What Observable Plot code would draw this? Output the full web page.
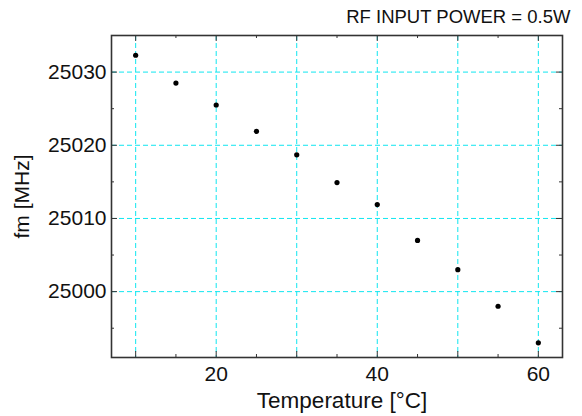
<!DOCTYPE html>
<html><head><meta charset="utf-8">
<script src="https://cdn.jsdelivr.net/npm/d3@7"></script>
<script src="https://cdn.jsdelivr.net/npm/@observablehq/plot@0.6"></script>
<style>body{margin:0;background:#fff;font-family:"Liberation Sans",Arial,sans-serif}</style>
</head><body><div id="chart"></div>
<script>
const temperature = [10, 15, 20, 25, 30, 35, 40, 45, 50, 55, 60];
const fm = [25032.3, 25028.5, 25025.5, 25021.9, 25018.7, 25014.9, 25011.9, 25007.0, 25003.0, 24998.0, 24993.0];
const xMajor = [10, 20, 30, 40, 50, 60];
const xMinor = [15, 25, 35, 45, 55];
const xLabels = [20, 40, 60];
const yMajor = [25000, 25010, 25020, 25030];
const yMinor = [24995, 25005, 25015, 25025, 25035];
const title = "RF INPUT POWER = 0.5W";
const xTitle = "Temperature [°C]";
const yTitle = "fm [MHz]";

const W = 582, H = 416, mL = 111, mR = 20, mT = 35, mB = 59;
const pw = W - mL - mR, ph = H - mT - mB;
const data = temperature.map((t, i) => ({t, f: fm[i]}));
const tickCol = "#333";
const grid = "#10e6f0";

const chart = Plot.plot({
  width: W, height: H,
  marginLeft: mL, marginRight: mR, marginTop: mT, marginBottom: mB,
  style: {fontFamily: "'Liberation Sans', Arial, sans-serif", background: "#fff"},
  x: {domain: [7, 63]},
  y: {domain: [24991, 25035]},
  marks: [
    Plot.ruleX(xMajor, {x: d => d, stroke: grid, strokeDasharray: "5,3", strokeWidth: 1}),
    Plot.ruleY(yMajor, {y: d => d, stroke: grid, strokeDasharray: "5,3", strokeWidth: 1}),
    // inward ticks
    Plot.ruleX(xMajor, {x: d => d, insetTop: ph - 6, stroke: tickCol}),
    Plot.ruleX(xMajor, {x: d => d, insetBottom: ph - 6, stroke: tickCol}),
    Plot.ruleX(xMinor, {x: d => d, insetTop: ph - 3, stroke: tickCol}),
    Plot.ruleX(xMinor, {x: d => d, insetBottom: ph - 3, stroke: tickCol}),
    Plot.ruleY(yMajor, {y: d => d, insetRight: pw - 6, stroke: tickCol}),
    Plot.ruleY(yMajor, {y: d => d, insetLeft: pw - 6, stroke: tickCol}),
    Plot.ruleY(yMinor, {y: d => d, insetRight: pw - 3, stroke: tickCol}),
    Plot.ruleY(yMinor, {y: d => d, insetLeft: pw - 3, stroke: tickCol}),
    Plot.frame({stroke: tickCol, strokeWidth: 1.6}),
    Plot.axisX({ticks: xLabels, tickSize: 0, tickPadding: 9, fontSize: 21, color: "#111", label: null}),
    Plot.axisY({ticks: yMajor, tickSize: 0, tickPadding: 5, fontSize: 21, color: "#111",
      tickFormat: d => String(d),
      label: yTitle, labelAnchor: "center", labelOffset: 97, labelArrow: "none"}),
    Plot.text([xTitle], {text: d => d, frameAnchor: "bottom", dx: 5, dy: 43, lineAnchor: "middle",
      fontSize: 22.5, fill: "#111"}),
    Plot.dot(data, {x: "t", y: "f", r: 2.6, fill: "#000", stroke: "none"}),
    Plot.text([title], {text: d => d, frameAnchor: "top-right", dx: 8, dy: -18, lineAnchor: "middle",
      textAnchor: "end", fontSize: 18.5, fill: "#111"})
  ]
});
document.getElementById("chart").appendChild(chart);
</script></body></html>
